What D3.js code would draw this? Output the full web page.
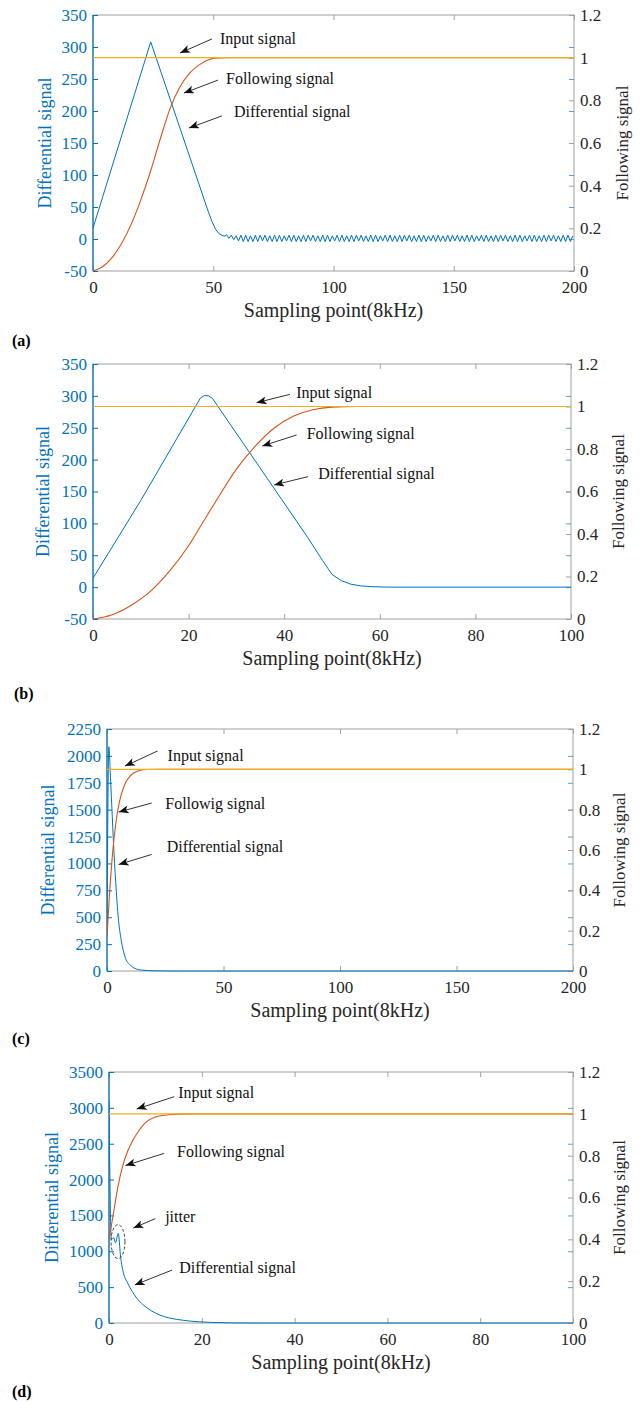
<!DOCTYPE html>
<html>
<head>
<meta charset="utf-8">
<script src="https://cdnjs.cloudflare.com/ajax/libs/d3/7.8.5/d3.min.js"></script>
<style>
  body { margin: 0; background: #fff; }
  svg text { font-family: "Liberation Serif", "Times New Roman", serif; }
</style>
</head>
<body>
<div id="chart"></div>
<script>
// ---- data ----
const panelNames = ["(a)", "(b)", "(c)", "(d)"];

const xTicksWide = [0, 50, 100, 150, 200];
const xTicksNarrow = [0, 20, 40, 60, 80, 100];
const leftTicksAB = [-50, 0, 50, 100, 150, 200, 250, 300, 350];
const leftTicksC = [0, 250, 500, 750, 1000, 1250, 1500, 1750, 2000, 2250];
const leftTicksD = [0, 500, 1000, 1500, 2000, 2500, 3000, 3500];
const rightTicks = [0, 0.2, 0.4, 0.6, 0.8, 1, 1.2];

const inputLevel = 1;

// (a) differential signal: triangle, then a small zig-zag around zero
const diffA = [[0, 17], [24, 308], [48, 42], [49.5, 27], [51, 15], [52.5, 8], [54, 5], [55, 4.5]];
const wiggleStart = 55.5, wiggleStep = 1;
const diffAWiggle = [
  7, 1, 6, -1, 5, -3, 6, -4, 6, -4, 5, -4, 6, -4, 6, -3,
  6, -4, 5, -4, 6, -4, 6, -4, 5, -3, 6, -4, 6, -4, 5, -4,
  6, -4, 6, -3, 6, -4, 5, -4, 6, -4, 6, -4, 5, -3, 6, -4,
  6, -4, 5, -4, 6, -4, 6, -3, 6, -4, 5, -4, 6, -4, 6, -4,
  5, -3, 6, -4, 6, -4, 5, -4, 6, -4, 6, -3, 6, -4, 5, -4,
  6, -4, 6, -4, 5, -3, 6, -4, 6, -4, 5, -4, 6, -4, 6, -3,
  6, -4, 5, -4, 6, -4, 6, -4, 5, -3, 6, -4, 6, -4, 5, -4,
  6, -4, 6, -3, 6, -4, 5, -4, 6, -4, 6, -4, 5, -3, 6, -4,
  6, -4, 5, -4, 6, -4, 6, -3, 6, -4, 5, -4, 6, -4, 6, -4,
  5
];
const followA = [[0, 0], [4, 0.02], [8, 0.064], [12, 0.131], [16, 0.222], [20, 0.337], [24, 0.47],
  [28, 0.62], [32, 0.76], [36, 0.86], [40, 0.925], [44, 0.965], [48, 0.99], [52, 0.999], [56, 1], [200, 1]];

// (b)
const diffB = [[0, 14], [10, 136], [22.5, 297], [23.3, 300.5], [24.2, 300], [25, 296], [26, 285],
  [45, 77], [48, 42], [50, 20], [52, 10], [54, 4.5], [56, 2], [58, 0.8], [62, 0], [100, 0]];
const followB = [[0, 0], [4, 0.02], [8, 0.065], [12, 0.13], [16, 0.225], [20, 0.345], [23, 0.455],
  [26, 0.565], [30, 0.705], [34, 0.815], [38, 0.9], [42, 0.955], [46, 0.985], [50, 0.997], [55, 1], [100, 1]];

// (c)
const diffC = [[0, 350], [0.8, 2085], [1.5, 1800], [2, 1560], [3, 1100], [4, 740], [5, 460], [6, 300],
  [7, 190], [8, 115], [10, 55], [12, 24], [15, 8], [20, 2], [25, 0], [200, 0]];
const followC = [[0, 0.17], [1, 0.37], [2, 0.53], [3, 0.655], [4, 0.75], [5, 0.82], [6, 0.87],
  [8, 0.935], [10, 0.968], [13, 0.99], [17, 0.999], [22, 1], [200, 1]];

// (d) with the small jitter just after the start
const diffD = [[0, 3100], [0.5, 1160], [1.0, 1190], [1.4, 1120], [2.0, 1250], [2.5, 920], [3.1, 700],
  [4, 560], [5, 440], [6, 345], [7, 275], [8, 220], [9, 175], [11, 110], [13, 70], [16, 38],
  [19, 18], [22, 8], [26, 2], [30, 0], [100, 0]];
const followD = [[0, 0.40], [1, 0.53], [2, 0.66], [3, 0.755], [4, 0.82], [5, 0.868], [6, 0.905],
  [8, 0.96], [10, 0.985], [13, 0.996], [17, 1], [100, 1]];

// annotations, in (x, right-axis) units
const notesA = [
  { text: "Input signal", tx: 52.8, ty: 1.064, x1: 49.5, y1: 1.088, x2: 36.2, y2: 1.022 },
  { text: "Following signal", tx: 55.3, ty: 0.877, x1: 52.0, y1: 0.895, x2: 37.8, y2: 0.834 },
  { text: "Differential signal", tx: 58.6, ty: 0.722, x1: 53.6, y1: 0.727, x2: 39.9, y2: 0.670 }
];
const notesB = [
  { text: "Input signal", tx: 42.5, ty: 1.04, x1: 41.2, y1: 1.057, x2: 34.2, y2: 1.018 },
  { text: "Following signal", tx: 44.7, ty: 0.847, x1: 42.6, y1: 0.866, x2: 35.4, y2: 0.814 },
  { text: "Differential signal", tx: 47.1, ty: 0.659, x1: 45.0, y1: 0.670, x2: 37.9, y2: 0.631 }
];
const notesC = [
  { text: "Input signal", tx: 26.0, ty: 1.041, x1: 21.7, y1: 1.091, x2: 7.7, y2: 1.016 },
  { text: "Followig signal", tx: 25.0, ty: 0.803, x1: 19.2, y1: 0.833, x2: 5.0, y2: 0.788 },
  { text: "Differential signal", tx: 25.6, ty: 0.590, x1: 19.2, y1: 0.578, x2: 5.0, y2: 0.528 }
];
const notesD = [
  { text: "Input signal", tx: 14.9, ty: 1.075, x1: 14.05, y1: 1.082, x2: 5.97, y2: 1.023 },
  { text: "Following signal", tx: 14.66, ty: 0.793, x1: 11.9, y1: 0.811, x2: 3.56, y2: 0.753 },
  { text: "jitter", tx: 12.1, ty: 0.483, x1: 9.98, y1: 0.499, x2: 5.24, y2: 0.454 },
  { text: "Differential signal", tx: 15.15, ty: 0.239, x1: 13.58, y1: 0.253, x2: 5.54, y2: 0.182 }
];
const jitterMark = { cx: 1.94, cy: 0.389, rx: 1.5, ry: 0.081 };

// ---- layout ----
const layout = [
  { left: 93, right: 574, top: 15, bottom: 271, labelX: 12, labelY: 346, leftTitleX: 45, rightTitleX: 622 },
  { left: 93, right: 571, top: 364, bottom: 619, labelX: 14, labelY: 699, leftTitleX: 43, rightTitleX: 618 },
  { left: 107, right: 573, top: 729, bottom: 971, labelX: 12, labelY: 1044, leftTitleX: 48, rightTitleX: 619 },
  { left: 109, right: 573, top: 1072, bottom: 1323, labelX: 12, labelY: 1397, leftTitleX: 52, rightTitleX: 619 }
];

const blue = "#0072BD", orange = "#D95319", yellow = "#EDB120";
const boxColor = "#a0a0a0", textColor = "#262626";
const serif = '"Liberation Serif", "Times New Roman", serif';

const panels = [
  { xMax: 200, xTicks: xTicksWide, leftDomain: [-50, 350], leftTicks: leftTicksAB,
    diff: diffA.concat(diffAWiggle.map((v, k) => [wiggleStart + k * wiggleStep, v])),
    diffCurve: d3.curveLinear, follow: followA, notes: notesA },
  { xMax: 100, xTicks: xTicksNarrow, leftDomain: [-50, 350], leftTicks: leftTicksAB,
    diff: diffB, diffCurve: d3.curveLinear, follow: followB, notes: notesB },
  { xMax: 200, xTicks: xTicksWide, leftDomain: [0, 2250], leftTicks: leftTicksC,
    diff: diffC, diffCurve: d3.curveMonotoneX, follow: followC, notes: notesC },
  { xMax: 100, xTicks: xTicksNarrow, leftDomain: [0, 3500], leftTicks: leftTicksD,
    diff: diffD, diffCurve: d3.curveMonotoneX, follow: followD, notes: notesD, ellipse: jitterMark }
];

const svg = d3.select("#chart").append("svg")
  .attr("width", 643)
  .attr("height", 1404)
  .style("background", "#fff");

const defs = svg.append("defs");
defs.append("marker")
  .attr("id", "arrow")
  .attr("viewBox", "0 0 10 8")
  .attr("refX", 10)
  .attr("refY", 4)
  .attr("markerWidth", 11)
  .attr("markerHeight", 8)
  .attr("markerUnits", "userSpaceOnUse")
  .attr("orient", "auto")
  .append("path")
  .attr("d", "M0,0L10,4L0,8L2.5,4Z")
  .attr("fill", "#111");

// plain hyphen minus like the original figure
const plain = d => String(d);

function styleAxis(sel, lineColor, textFill) {
  sel.attr("font-family", null).attr("font-size", null);
  sel.select(".domain").remove();
  sel.selectAll("line").attr("stroke", lineColor);
  sel.selectAll("text")
    .attr("fill", textFill)
    .style("font-family", serif)
    .style("font-size", "17px");
}

function drawPanel(p, i) {
  const L = layout[i];
  const x = d3.scaleLinear().domain([0, p.xMax]).range([L.left, L.right]);
  const yL = d3.scaleLinear().domain(p.leftDomain).range([L.bottom, L.top]);
  const yR = d3.scaleLinear().domain([0, 1.2]).range([L.bottom, L.top]);

  const g = svg.append("g");

  defs.append("clipPath").attr("id", "clip" + i)
    .append("rect")
    .attr("x", L.left).attr("y", L.top - 1)
    .attr("width", L.right - L.left).attr("height", L.bottom - L.top + 2);

  // box
  g.append("rect")
    .attr("x", L.left).attr("y", L.top)
    .attr("width", L.right - L.left).attr("height", L.bottom - L.top)
    .attr("fill", "none")
    .attr("stroke", boxColor)
    .attr("stroke-width", 1);

  // bottom axis
  g.append("g")
    .attr("transform", `translate(0,${L.bottom})`)
    .call(d3.axisBottom(x).tickValues(p.xTicks).tickSize(-5).tickPadding(10).tickFormat(plain))
    .call(s => styleAxis(s, boxColor, textColor));

  // top ticks
  g.append("g")
    .attr("transform", `translate(0,${L.top})`)
    .call(d3.axisTop(x).tickValues(p.xTicks).tickSize(-5).tickFormat(""))
    .call(s => styleAxis(s, boxColor, textColor));

  // left axis (blue)
  g.append("g")
    .attr("transform", `translate(${L.left},0)`)
    .call(d3.axisLeft(yL).tickValues(p.leftTicks).tickSize(-5).tickPadding(6).tickFormat(plain))
    .call(s => styleAxis(s, blue, blue));

  // left-axis ticks repeated on the right side
  g.append("g")
    .attr("transform", `translate(${L.right},0)`)
    .call(d3.axisRight(yL).tickValues(p.leftTicks).tickSize(-5).tickFormat(""))
    .call(s => styleAxis(s, "#5aa0d6", blue));

  // right axis
  g.append("g")
    .attr("transform", `translate(${L.right},0)`)
    .call(d3.axisRight(yR).tickValues(rightTicks).tickSize(-5).tickPadding(6).tickFormat(plain))
    .call(s => styleAxis(s, boxColor, textColor));

  // left axis line in blue
  g.append("line")
    .attr("x1", L.left).attr("x2", L.left)
    .attr("y1", L.top).attr("y2", L.bottom)
    .attr("stroke", blue)
    .attr("stroke-width", 1.2);

  // series
  const plot = g.append("g").attr("clip-path", `url(#clip${i})`);

  const diffLine = d3.line()
    .x(d => x(d[0]))
    .y(d => yL(d[1]))
    .curve(p.diffCurve);

  const rightLine = d3.line()
    .x(d => x(d[0]))
    .y(d => yR(d[1]))
    .curve(d3.curveMonotoneX);

  plot.append("path")
    .datum(p.diff)
    .attr("d", diffLine)
    .attr("fill", "none")
    .attr("stroke", blue)
    .attr("stroke-width", 1)
    .attr("stroke-linejoin", "round");

  plot.append("path")
    .datum(p.follow)
    .attr("d", rightLine)
    .attr("fill", "none")
    .attr("stroke", orange)
    .attr("stroke-width", 1.1);

  plot.append("path")
    .datum([[0, inputLevel], [p.xMax, inputLevel]])
    .attr("d", rightLine)
    .attr("fill", "none")
    .attr("stroke", yellow)
    .attr("stroke-width", 1.1);

  // annotations
  p.notes.forEach(n => {
    g.append("line")
      .attr("x1", x(n.x1)).attr("y1", yR(n.y1))
      .attr("x2", x(n.x2)).attr("y2", yR(n.y2))
      .attr("stroke", "#333")
      .attr("stroke-width", 1)
      .attr("marker-end", "url(#arrow)");

    g.append("text")
      .attr("x", x(n.tx))
      .attr("y", yR(n.ty))
      .text(n.text)
      .attr("fill", "#111")
      .style("font-size", "16px");
  });

  if (p.ellipse) {
    const e = p.ellipse;
    g.append("ellipse")
      .attr("cx", x(e.cx))
      .attr("cy", yR(e.cy))
      .attr("rx", x(e.rx) - x(0))
      .attr("ry", yR(0) - yR(e.ry))
      .attr("fill", "none")
      .attr("stroke", "#444")
      .attr("stroke-width", 1)
      .attr("stroke-dasharray", "3,2");
  }

  // titles
  g.append("text")
    .attr("x", (L.left + L.right) / 2)
    .attr("y", L.bottom + 46)
    .attr("text-anchor", "middle")
    .attr("fill", textColor)
    .style("font-size", "20px")
    .text("Sampling point(8kHz)");

  g.append("text")
    .attr("transform", `translate(${L.leftTitleX},${(L.top + L.bottom) / 2}) rotate(-90)`)
    .attr("text-anchor", "middle")
    .attr("dy", "0.35em")
    .attr("fill", blue)
    .style("font-size", "18px")
    .text("Differential signal");

  g.append("text")
    .attr("transform", `translate(${L.rightTitleX},${(L.top + L.bottom) / 2}) rotate(-90)`)
    .attr("text-anchor", "middle")
    .attr("dy", "0.35em")
    .attr("fill", textColor)
    .style("font-size", "17px")
    .text("Following signal");

  svg.append("text")
    .attr("x", L.labelX)
    .attr("y", L.labelY)
    .attr("fill", "#000")
    .style("font-size", "16px")
    .style("font-weight", "bold")
    .text(panelNames[i]);
}

panels.forEach(drawPanel);
</script>
</body>
</html>
